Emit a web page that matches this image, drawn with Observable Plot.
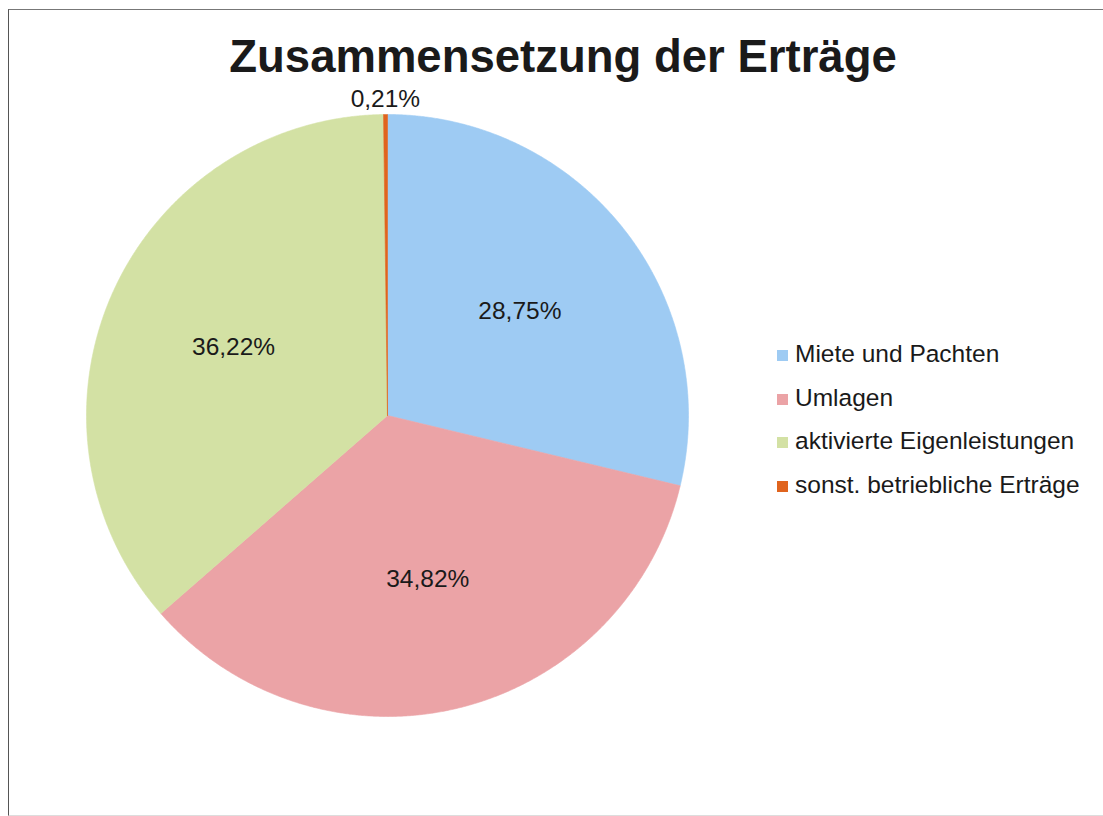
<!DOCTYPE html>
<html>
<head>
<meta charset="utf-8">
<script src="https://cdn.jsdelivr.net/npm/d3@7"></script>
<script src="https://cdn.jsdelivr.net/npm/@observablehq/plot@0.6"></script>
<style>
  html, body { margin: 0; padding: 0; background: #fff; }
  #wrap { position: relative; width: 1103px; height: 816px; overflow: hidden; font-family: "Liberation Sans", Arial, sans-serif; }
  #frame { position: absolute; left: 8px; top: 9px; width: 1200px; height: 805px; border-left: 1px solid #555; border-top: 1px solid #777; border-bottom: 1px solid #ddd; }
  #title { position: absolute; left: 0; width: 1126px; top: 34px; text-align: center; font-size: 45.5px; line-height: 45px; font-weight: bold; color: #1a1a1a; }
  #legend { position: absolute; left: 777px; top: 332px; font-size: 24.5px; line-height: 43.7px; color: #1a1a1a; }
  #legend .sw { display: inline-block; width: 11px; height: 11px; margin-right: 7px; vertical-align: 1px; }
  #chart { position: absolute; left: 0; top: 0; }
</style>
</head>
<body>
<div id="wrap">
  <div id="frame"></div>
  <div id="chart"></div>
  <div id="title"></div>
  <div id="legend"></div>
</div>
<script>
const titleText = "Zusammensetzung der Erträge";
const categories = ["Miete und Pachten", "Umlagen", "aktivierte Eigenleistungen", "sonst. betriebliche Erträge"];
const shares = [28.75, 34.82, 36.22, 0.21];
const colors = ["#9ecbf3", "#eba3a6", "#d3e1a4", "#e0641e"];

document.getElementById("title").textContent = titleText;

// Build slice polygons (angles measured clockwise from 12 o'clock)
const total = d3.sum(shares);
const polys = [];
const labels = [];
let acc = 0;
categories.forEach((cat, i) => {
  const a0 = acc / total * 2 * Math.PI;
  acc += shares[i];
  const a1 = acc / total * 2 * Math.PI;
  polys.push({cat, x: 0, y: 0});
  const n = Math.max(2, Math.ceil((a1 - a0) / (Math.PI / 720)));
  for (let k = 0; k <= n; k++) {
    const a = a0 + (a1 - a0) * k / n;
    polys.push({cat, x: Math.sin(a), y: Math.cos(a)});
  }
  polys.push({cat, x: 0, y: 0});
  const mid = (a0 + a1) / 2;
  const rr = shares[i] < 1 ? 1.05 : 0.56;
  labels.push({
    cat,
    x: rr * Math.sin(mid),
    y: rr * Math.cos(mid),
    text: shares[i].toFixed(2).replace(".", ",") + "%"
  });
});

const cx = 387, cy = 415, r = 301;

const chart = Plot.plot({
  width: 1103,
  height: 816,
  margin: 0,
  style: {background: "transparent", fontFamily: "'Liberation Sans', Arial, sans-serif"},
  x: {domain: [-1, 1], range: [cx - r, cx + r], axis: null},
  y: {domain: [-1, 1], range: [cy + r, cy - r], axis: null},
  color: {domain: categories, range: colors},
  marks: [
    Plot.line(polys, {x: "x", y: "y", z: "cat", fill: "cat", stroke: "cat", strokeWidth: 0.6, curve: "linear-closed"}),
    Plot.text(labels, {x: "x", y: "y", text: "text", fontSize: 24.5, fill: "#1a1a1a"})
  ]
});
document.getElementById("chart").appendChild(chart);

const legend = document.getElementById("legend");
categories.forEach((cat, i) => {
  const row = document.createElement("div");
  const sw = document.createElement("span");
  sw.className = "sw";
  sw.style.background = colors[i];
  row.appendChild(sw);
  row.appendChild(document.createTextNode(cat));
  legend.appendChild(row);
});
</script>
</body>
</html>
